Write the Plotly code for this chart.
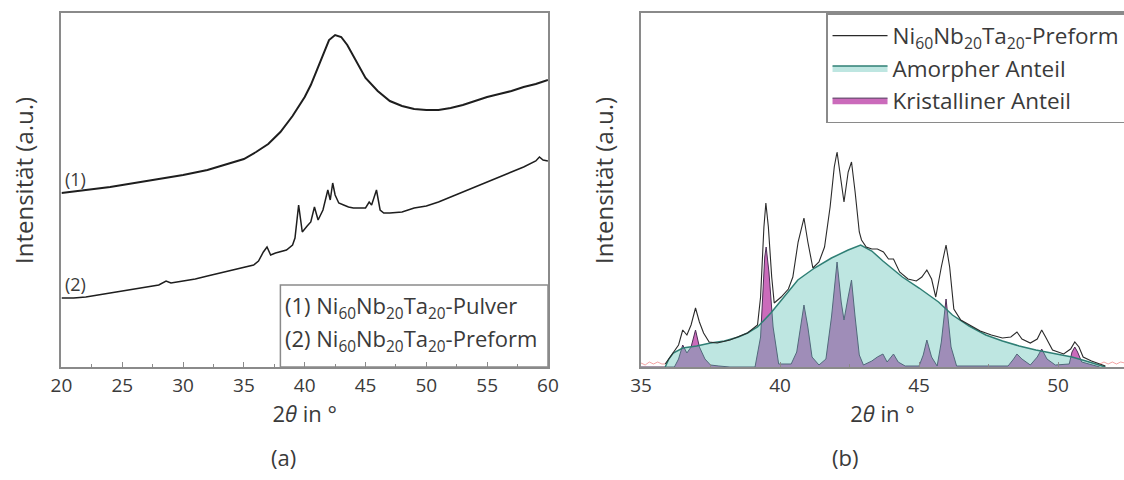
import plotly.graph_objects as go

# ---------------- (a) XRD patterns ----------------
theta_pulver = [20, 22, 24, 26, 28, 30, 32, 34, 35, 36, 37, 38, 39, 40, 40.5, 41, 41.5, 42, 42.5, 43,
                43.5, 44, 44.5, 45, 46, 47, 48, 49, 50, 51, 52, 53, 54, 55, 56, 57, 58, 59, 60]
int_pulver = [174, 177, 180, 184, 188, 192, 197, 204, 208, 215, 223, 235, 251, 270, 282, 297, 313, 327, 332, 330,
              322, 311, 299, 289, 276, 266, 261, 258, 257, 257, 259, 262, 266, 270, 273, 276, 280, 283, 287]

theta_preform_a = [20, 21, 22, 23, 24, 25, 26, 27, 28, 28.6, 29, 30, 31, 32, 33, 34, 35, 35.8, 36.2, 36.6,
                   36.9, 37.2, 37.6, 38, 38.5, 39, 39.2, 39.5, 39.8, 40.2, 40.5, 40.8, 41.1, 41.5, 41.9, 42.1,
                   42.3, 42.5, 42.8, 43.2, 43.6, 44, 44.5, 45, 45.3, 45.5, 45.9, 46.2, 46.5, 47, 48, 49, 50,
                   51, 52, 53, 54, 55, 56, 57, 58, 59, 59.3, 59.6, 60]
int_preform_a = [69, 69, 70, 72, 74, 76, 78, 80, 82, 86, 84, 86, 88, 91, 94, 97, 100, 102, 106, 115,
                 120, 112, 114, 115, 117, 122, 129, 162, 135, 141, 145, 160, 147, 157, 177, 167,
                 184, 172, 164, 162, 160, 159, 159, 159, 165, 162, 177, 157, 154, 154, 155, 159, 161,
                 165, 170, 175, 180, 185, 190, 195, 200, 206, 210, 207, 206]

# ---------------- (b) decomposition ----------------
theta_preform_b = [35.87, 36.16, 36.35, 36.5, 36.65, 36.8, 36.96, 37.1, 37.25, 37.45, 37.74, 38.2, 38.83, 39.19,
                   39.3, 39.42, 39.49, 39.58, 39.7, 39.79, 40.04, 40.3, 40.46, 40.65, 40.86, 41.0, 41.18, 41.4,
                   41.6, 41.8, 41.95, 42.05, 42.15, 42.3, 42.45, 42.57, 42.7, 42.85, 42.93, 43.1, 43.3, 43.5,
                   43.72, 43.9, 44.08, 44.3, 44.6, 44.9, 45.1, 45.28, 45.45, 45.6, 45.8, 45.97, 46.1, 46.25,
                   46.5, 46.8, 47.2, 47.6, 48.0, 48.3, 48.52, 48.7, 49.0, 49.25, 49.41, 49.55, 49.8, 50.2,
                   50.45, 50.6, 50.75, 50.9, 51.2, 51.5, 51.7]
int_preform_b = [3, 14, 22, 37, 32, 42, 59, 45, 34, 25, 24, 27, 34, 42,
                 70, 140, 164, 140, 90, 64, 70, 78, 90, 125, 149, 125, 99, 105,
                 120, 160, 200, 215, 195, 165, 195, 205, 175, 135, 127, 120, 118, 118,
                 115, 108, 108, 95, 88, 86, 90, 97, 88, 70, 100, 122, 100, 58,
                 47, 42, 36, 32, 29, 30, 35, 28, 24, 28, 37, 30, 17, 13,
                 18, 25, 20, 10, 6, 3, 1]

theta_amorph = [35.87, 36.0, 36.16, 36.5, 37.0, 37.5, 38.0, 38.5, 38.83, 39.19, 39.67, 40.04, 40.64, 41.24,
                41.85, 42.45, 42.9, 43.3, 43.7, 44.4, 45.0, 45.7, 46.2, 46.8, 47.4, 48.0, 48.6, 49.2, 49.9,
                50.5, 51.0, 51.5, 51.7]
int_amorph = [0, 8, 14, 19, 21, 24, 26, 30, 34, 40, 54, 67, 87, 99,
              109, 117, 122, 116, 106, 90, 79, 65, 52, 41, 32, 26, 21, 17, 13,
              10, 6, 2, 0]

theta_kristall = [35.0, 36.2, 36.35, 36.5, 36.65, 36.8, 36.96, 37.1, 37.3, 37.5, 37.8, 38.2, 39.1, 39.3, 39.45,
                  39.5, 39.6, 39.75, 39.95, 40.4, 40.6, 40.75, 40.86, 41.0, 41.15, 41.4, 41.65, 41.85, 42.05,
                  42.2, 42.3, 42.45, 42.57, 42.7, 42.85, 43.0, 43.3, 43.5, 43.7, 43.85, 44.08, 44.25, 44.5,
                  45.0, 45.15, 45.28, 45.45, 45.65, 45.8, 45.97, 46.15, 46.35, 48.2, 48.4, 48.52, 48.7, 49.0,
                  49.25, 49.41, 49.6, 49.9, 50.4, 50.5, 50.6, 50.7, 50.85, 51.2, 51.5]
int_kristall = [0, 0, 8, 22, 14, 20, 37, 20, 8, 2, 1, 0, 0, 30, 110,
                120, 95, 40, 3, 3, 15, 45, 62, 40, 10, 2, 8, 50, 105,
                65, 47, 70, 87, 50, 12, 2, 6, 10, 13, 5, 13, 5, 1,
                1, 12, 27, 10, 1, 25, 68, 20, 1, 1, 8, 13, 8, 2,
                10, 18, 8, 2, 3, 15, 20, 15, 5, 2, 0]

theta_rest_lo = [35.0, 35.15, 35.3, 35.45, 35.6, 35.75, 35.87]
int_rest_lo = [4, 2, 5, 3, 5, 3, 3]
theta_rest_hi = [51.5, 51.65, 51.8, 51.95, 52.1, 52.25, 52.4]
int_rest_hi = [3, 5, 3, 5, 3, 5, 4]

FONT = "Open Sans"
TXT = "#3a3a3a"
AX = "#8a8a8a"

fig = go.Figure()

# (a)
fig.add_trace(go.Scatter(x=theta_pulver, y=int_pulver, mode="lines",
                         line=dict(color="#1e1e1e", width=2), showlegend=False,
                         xaxis="x", yaxis="y"))
fig.add_trace(go.Scatter(x=theta_preform_a, y=int_preform_a, mode="lines",
                         line=dict(color="#1e1e1e", width=1.5), showlegend=False,
                         xaxis="x", yaxis="y"))

# (b)
fig.add_trace(go.Scatter(x=theta_kristall, y=int_kristall, mode="lines", fill="tozeroy",
                         fillcolor="rgba(190,70,170,0.8)", line=dict(color="#4a2f55", width=1),
                         name="Kristalliner Anteil", legendrank=3, legendgroup="k",
                         xaxis="x2", yaxis="y2"))
fig.add_trace(go.Scatter(x=theta_amorph, y=int_amorph, mode="lines", fill="tozeroy",
                         fillcolor="rgba(92,192,180,0.4)", line=dict(color="#2f7f75", width=1.5),
                         name="Amorpher Anteil", legendrank=2, legendgroup="a",
                         xaxis="x2", yaxis="y2"))
fig.add_trace(go.Scatter(x=theta_preform_b, y=int_preform_b, mode="lines",
                         line=dict(color="#2a2a2a", width=1.1),
                         name="Ni<sub>60</sub>Nb<sub>20</sub>Ta<sub>20</sub>-Preform",
                         legendrank=1, legendgroup="p",
                         xaxis="x2", yaxis="y2"))
for tx, iy in ((theta_rest_lo, int_rest_lo), (theta_rest_hi, int_rest_hi)):
    fig.add_trace(go.Scatter(x=tx, y=iy, mode="lines",
                             line=dict(color="rgba(235,90,90,0.55)", width=1),
                             showlegend=False, xaxis="x2", yaxis="y2"))

ydom = [0.2354, 0.9729]
common_x = dict(showline=True, linecolor=AX, linewidth=1.6, ticks="inside", ticklen=5,
                tickcolor=AX, tickwidth=1.2, showgrid=False, zeroline=False, automargin=False,
                tickfont=dict(size=19, color=TXT, family=FONT), ticklabelstandoff=0,
                minor=dict(ticks="inside", ticklen=3, dtick=2.5, tickcolor=AX),
                title=dict(text="2<i>θ</i> in °", font=dict(size=22, color=TXT, family=FONT),
                           standoff=4))
common_y = dict(showline=True, linecolor=AX, linewidth=1.6, showticklabels=False, ticks="",
                showgrid=False, zeroline=False, range=[0, 354], domain=ydom, automargin=False)

fig.update_layout(
    width=1124, height=480, margin=dict(l=0, r=0, t=0, b=0, autoexpand=False),
    paper_bgcolor="white", plot_bgcolor="white",
    font=dict(family=FONT, color=TXT),
    xaxis=dict(domain=[0.0547, 0.4875], range=[20, 60], tick0=20, dtick=5, mirror=True,
               anchor="y", **common_x),
    yaxis=dict(anchor="x", mirror=True, **common_y),
    xaxis2=dict(domain=[0.5703, 1.0], range=[35, 52.37], tick0=35, dtick=5, mirror=True,
                anchor="y2", **common_x),
    yaxis2=dict(anchor="x2", mirror=False, **common_y),
    legend=dict(x=0.7349, y=0.9729, xanchor="left", yanchor="top", bgcolor="white",
                bordercolor=AX, borderwidth=1.5, font=dict(size=22.5, color=TXT, family=FONT),
                tracegroupgap=6, itemwidth=55, traceorder="normal"),
    showlegend=True,
)

# y-axis titles
for xp in (23 / 1124, 603 / 1124):
    fig.add_annotation(xref="paper", yref="paper", x=xp, y=(480 - 181) / 480, textangle=-90,
                       xanchor="center", yanchor="middle", showarrow=False,
                       text="Intensität (a.u.)", font=dict(size=24, color=TXT, family=FONT))

# legend box of panel (a)
fig.add_shape(type="rect", xref="x", yref="y", x0=38.0, x1=60, y0=0, y1=82,
              line=dict(color=AX, width=1.5), fillcolor="white", layer="below")
fig.add_annotation(xref="x", yref="y", x=38.2, y=60, xanchor="left", yanchor="middle", showarrow=False,
                   text="(1) Ni<sub>60</sub>Nb<sub>20</sub>Ta<sub>20</sub>-Pulver",
                   font=dict(size=22, color=TXT, family=FONT))
fig.add_annotation(xref="x", yref="y", x=38.2, y=27, xanchor="left", yanchor="middle", showarrow=False,
                   text="(2) Ni<sub>60</sub>Nb<sub>20</sub>Ta<sub>20</sub>-Preform",
                   font=dict(size=22, color=TXT, family=FONT))

# curve labels
fig.add_annotation(xref="x", yref="y", x=20.1, y=188, xanchor="left", yanchor="middle", showarrow=False,
                   text="(1)", font=dict(size=18, color=TXT, family=FONT))
fig.add_annotation(xref="x", yref="y", x=20.1, y=83, xanchor="left", yanchor="middle", showarrow=False,
                   text="(2)", font=dict(size=18, color=TXT, family=FONT))

# panel letters
fig.add_annotation(xref="paper", yref="paper", x=283 / 1124, y=(480 - 457) / 480, xanchor="center",
                   yanchor="middle", showarrow=False, text="(a)", font=dict(size=22, color=TXT, family=FONT))
fig.add_annotation(xref="paper", yref="paper", x=845 / 1124, y=(480 - 457) / 480, xanchor="center",
                   yanchor="middle", showarrow=False, text="(b)", font=dict(size=22, color=TXT, family=FONT))

fig.write_html("out.html")
